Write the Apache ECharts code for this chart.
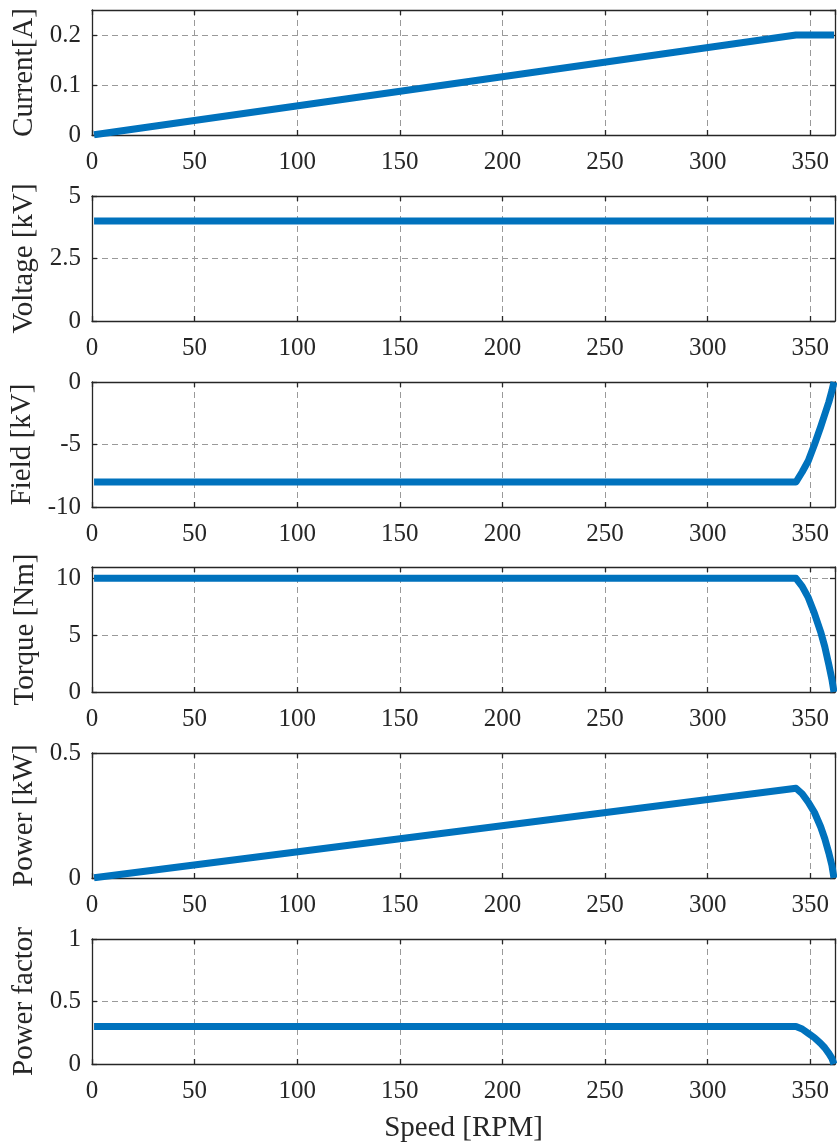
<!DOCTYPE html>
<html>
<head>
<meta charset="utf-8">
<script src="https://cdn.jsdelivr.net/npm/echarts@6/dist/echarts.min.js"></script>
<style>html,body{margin:0;padding:0;background:#fff}#c{width:837px;height:1142px}</style>
</head>
<body>
<div id="c"></div>
<script>
// Speed samples [RPM]
const speed = [1, 343, 346, 349, 352, 355, 357, 359, 360.5, 361.5];
const currentA = [0.0006, 0.2, 0.2, 0.2, 0.2, 0.2, 0.2, 0.2, 0.2, 0.2];
const voltageKV = [4, 4, 4, 4, 4, 4, 4, 4, 4, 4];
const fieldKV = [-8, -8, -7.2, -6.3, -5.0, -3.6, -2.6, -1.6, -0.7, 0];
const torqueNm = [10, 10, 9.3, 8.3, 6.9, 5.3, 4.0, 2.4, 1.1, 0];
const powerKW = [0.001, 0.359, 0.337, 0.303, 0.262, 0.205, 0.158, 0.1, 0.05, 0];
const powerFactor = [0.3, 0.3, 0.28, 0.245, 0.21, 0.165, 0.13, 0.085, 0.045, 0];
const xTicks = [0, 50, 100, 150, 200, 250, 300, 350];

const panels = [
  {name: 'Current[A]', data: currentA, min: 0, max: 0.25, interval: 0.1, showMax: false},
  {name: 'Voltage [kV]', data: voltageKV, min: 0, max: 5, interval: 2.5, showMax: true},
  {name: 'Field [kV]', data: fieldKV, min: -10, max: 0, interval: 5, showMax: true},
  {name: 'Torque [Nm]', data: torqueNm, min: 0, max: 11, interval: 5, showMax: false},
  {name: 'Power [kW]', data: powerKW, min: 0, max: 0.5, interval: 0.5, showMax: true},
  {name: 'Power factor', data: powerFactor, min: 0, max: 1, interval: 0.5, showMax: true}
];

const tops = [10, 196, 382, 567, 753, 939];
const H = 125;
const FONT = '"Liberation Serif", "Times New Roman", Times, serif';
const AX = '#262626';
const grids = [], xAxes = [], yAxes = [], series = [];
const axisLine = {show: true, onZero: false, lineStyle: {color: AX, width: 1.3}};
const tick = {show: true, inside: true, length: 5, lineStyle: {color: AX, width: 1.3}};
const gridLine = {show: true, lineStyle: {color: '#9a9a9a', width: 1, type: [6, 4]}};

panels.forEach((p, i) => {
  grids.push({left: 92, right: 2, top: tops[i], height: H, containLabel: false, outerBoundsMode: 'none'});
  xAxes.push({
    type: 'value', gridIndex: i, position: 'bottom', min: 0, max: 362, interval: 50,
    axisLine, axisTick: tick, splitLine: gridLine,
    axisLabel: {show: true, margin: 15, fontFamily: FONT, fontSize: 25, color: AX, showMaxLabel: false,
      formatter: v => xTicks.includes(v) ? String(v) : ''},
    name: i === 5 ? 'Speed [RPM]' : '', nameLocation: 'middle', nameGap: 50,
    nameTextStyle: {fontFamily: FONT, fontSize: 29, color: AX}
  });
  xAxes.push({
    type: 'value', gridIndex: i, position: 'top', min: 0, max: 362, interval: 50,
    axisLine, axisTick: tick, splitLine: {show: false}, axisLabel: {show: false}
  });
  yAxes.push({
    type: 'value', gridIndex: i, position: 'left', min: p.min, max: p.max, interval: p.interval,
    axisLine, axisTick: tick, splitLine: gridLine,
    axisLabel: {show: true, margin: 11, fontFamily: FONT, fontSize: 25, color: AX, showMaxLabel: p.showMax},
    name: p.name, nameLocation: 'middle', nameGap: 52, nameRotate: 90,
    nameTextStyle: {fontFamily: FONT, fontSize: 29, color: AX}
  });
  yAxes.push({
    type: 'value', gridIndex: i, position: 'right', min: p.min, max: p.max, interval: p.interval,
    axisLine, axisTick: tick, splitLine: {show: false}, axisLabel: {show: false}
  });
  series.push({
    type: 'line', xAxisIndex: 2 * i, yAxisIndex: 2 * i,
    data: speed.map((s, k) => [s, p.data[k]]),
    showSymbol: false, symbol: 'none', smooth: false,
    lineStyle: {color: '#0072BD', width: 7, cap: 'butt', join: 'round'},
    z: 3
  });
});

const chart = echarts.init(document.getElementById('c'), null, {renderer: 'canvas'});
chart.setOption({
  animation: false,
  backgroundColor: '#ffffff',
  grid: grids, xAxis: xAxes, yAxis: yAxes, series
});
</script>
</body>
</html>
